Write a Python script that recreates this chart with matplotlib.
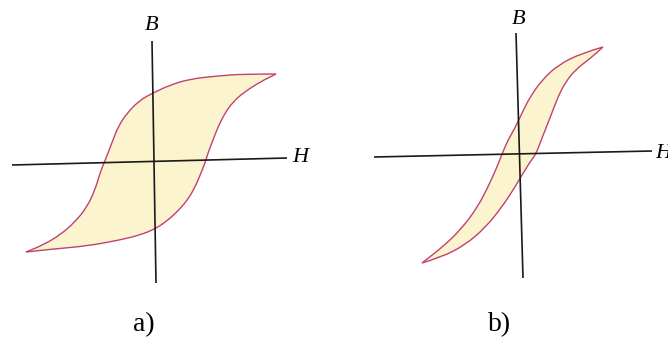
import numpy as np
import matplotlib.pyplot as plt
from matplotlib.path import Path
from matplotlib.patches import PathPatch

plt.rcParams['font.family'] = ['Liberation Serif', 'DejaVu Serif']

# a) wide loop (hard material): H, B read along each branch
Ha_desc = [12.2, 8.9, 6.3, 3.6, 1.6, -0.1, -1.4, -2.7, -3.6, -4.1, -4.6, -5.0,
           -5.4, -5.9, -6.7, -7.9, -9.4, -11.1, -12.8]
Ba_desc = [8.9, 8.9, 8.7, 8.4, 7.8, 7.0, 6.3, 5.0, 3.6, 2.3, 1.0, 0.0,
           -1.0, -2.7, -4.4, -5.9, -7.2, -8.2, -8.9]
Ha_asc = [-12.8, -10.1, -6.7, -3.4, -1.4, 0.1, 1.3, 2.5, 3.5, 4.2, 4.7, 5.1,
          5.4, 5.9, 6.4, 7.1, 7.9, 8.9, 10.6, 12.2]
Ba_asc = [-8.9, -8.6, -8.3, -7.7, -7.2, -6.6, -5.8, -4.7, -3.5, -2.2, -1.0, 0.0,
          1.0, 2.3, 3.6, 5.0, 6.1, 7.0, 8.1, 8.9]

# b) narrow loop (soft material)
Hb_desc = [8.4, 6.3, 3.9, 2.3, 1.1, 0.3, -0.4, -1.1, -1.7, -2.2, -3.1, -4.2,
           -5.7, -7.4, -9.7]
Bb_desc = [10.7, 10.1, 8.9, 7.4, 5.7, 4.1, 2.6, 1.4, 0.0, -1.3, -3.3, -5.4,
           -7.4, -9.1, -10.9]
Hb_asc = [-9.7, -7.7, -5.4, -3.4, -1.7, -0.4, 0.3, 1.1, 1.7, 2.3, 2.9, 3.4,
          3.9, 4.6, 5.6, 7.3, 8.4]
Bb_asc = [-10.9, -10.3, -9.1, -7.4, -5.3, -3.3, -2.1, -0.8, 0.0, 1.6, 3.1, 4.4,
          5.7, 7.1, 8.4, 9.7, 10.7]

# axis line ends (H axis, B axis) as drawn, slightly tilted
axes_a = {'H': ([-14.2, 13.3], [-0.2, 0.5]), 'B': ([-0.2, 0.2], [12.2, -12.0])}
axes_b = {'H': ([-14.5, 13.3], [-0.3, 0.3]), 'B': ([-0.3, 0.4], [12.1, -12.4])}

fill_col = '#fcf3cf'
edge_col = '#bf4270'

fig = plt.figure(figsize=(6.68, 3.39), dpi=100)


def branch(h, b):
    # quadratic segments through midpoints -> smooth curve, ends kept
    pts = np.column_stack([h, b])
    verts = [pts[0]]
    codes = [Path.MOVETO]
    for i in range(1, len(pts) - 1):
        verts += [pts[i], (pts[i] + pts[i + 1]) / 2]
        codes += [Path.CURVE3, Path.CURVE3]
    verts.append(pts[-1])
    codes.append(Path.LINETO)
    return np.array(verts), codes


def loop_panel(ax, h_desc, b_desc, h_asc, b_asc, lines, b_pos, h_pos, tag, tag_pos):
    v1, c1 = branch(h_desc, b_desc)
    v2, c2 = branch(h_asc, b_asc)
    c2_join = [Path.LINETO] + c2[1:]
    loop = Path(np.vstack([v1, v2]), c1 + c2_join)
    ax.add_patch(PathPatch(loop, facecolor=fill_col, lw=0, zorder=1))
    for v, c in ((v1, c1), (v2, c2)):
        ax.add_patch(PathPatch(Path(v, c), facecolor='none', edgecolor=edge_col,
                               lw=1.0, zorder=2))
    for k in ('H', 'B'):
        ax.plot(*lines[k], color='#1a1a1a', lw=1.2, zorder=3,
                solid_capstyle='butt')
    ax.text(*b_pos, 'B', style='italic', fontsize=16, ha='center', va='center')
    ax.text(*h_pos, 'H', style='italic', fontsize=16, ha='left', va='center',
            clip_on=False)
    ax.text(*tag_pos, tag, fontsize=20, ha='center', va='center')
    ax.axis('off')


ax_a = fig.add_axes([0, 0, 1, 1])
ax_a.set_xlim(-15.4, 51.4)
ax_a.set_ylim(-17.6, 16.3)
loop_panel(ax_a, Ha_desc, Ba_desc, Ha_asc, Ba_asc, axes_a,
           (-0.25, 13.8), (13.8, 0.6), 'a)', (-1.0, -16.2))

ax_b = fig.add_axes([0, 0, 1, 1])
ax_b.patch.set_alpha(0)
ax_b.set_xlim(-51.9, 14.9)
ax_b.set_ylim(-18.5, 15.4)
loop_panel(ax_b, Hb_desc, Bb_desc, Hb_asc, Bb_asc, axes_b,
           (-0.05, 13.5), (13.6, 0.0), 'b)', (-1.9, -17.1))

fig.savefig('out.png', dpi=100, facecolor='white')
